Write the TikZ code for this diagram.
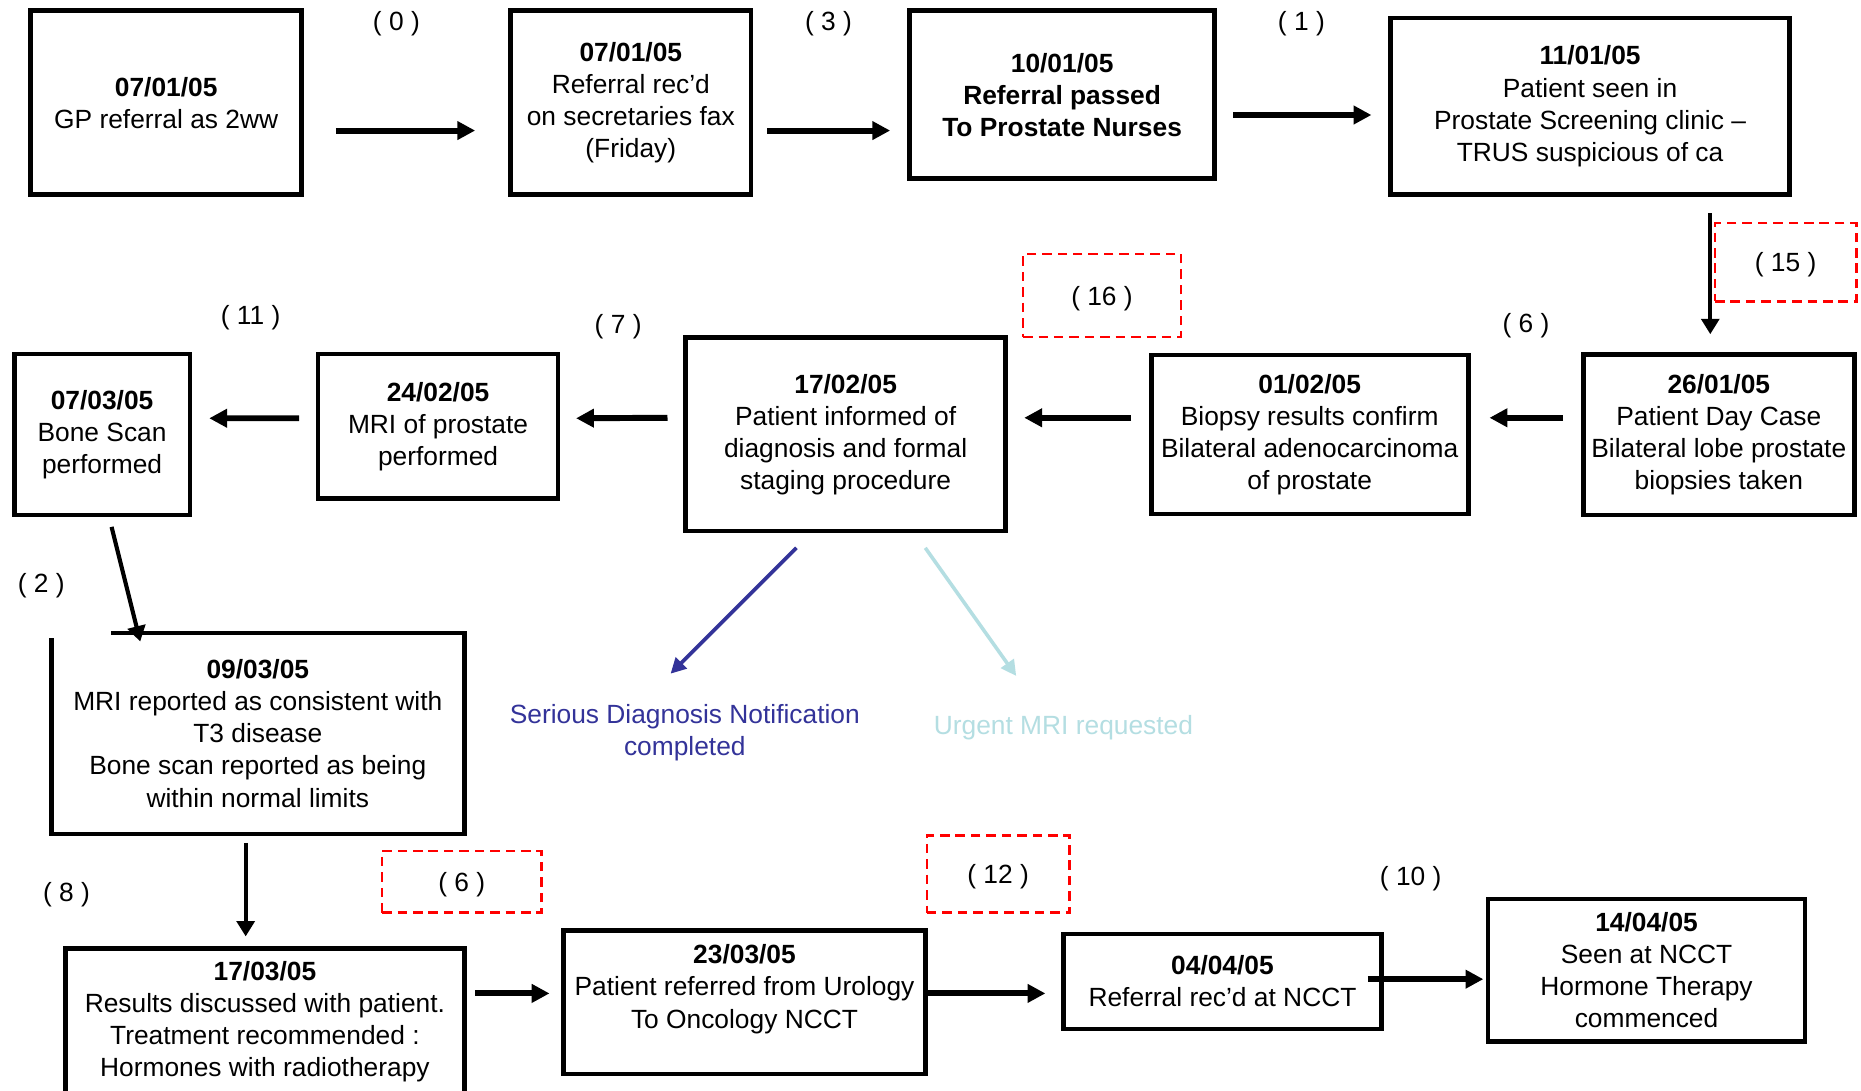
\documentclass[tikz,border=0pt]{standalone}
\usepackage{fontspec}
\setmainfont{Liberation Sans}
\usetikzlibrary{arrows.meta,calc}
\definecolor{sdblue}{RGB}{51,51,153}
\definecolor{mrilight}{RGB}{180,222,226}
\tikzset{
  box/.style={draw=black,line width=4pt,inner sep=0pt,align=center,font=\fontsize{22.2}{27}\selectfont},
  nobox/.style={inner sep=0pt,align=center,font=\fontsize{22.2}{27}\selectfont},
  lbl/.style={inner sep=0pt,text depth=0pt,font=\fontsize{22.2}{27}\selectfont},
  redbox/.style={draw=red,line width=2.2pt,dash pattern=on 8pt off 5pt,inner sep=0pt,text depth=0pt,font=\fontsize{22.2}{27}\selectfont},
  thickarr/.style={line width=5pt,-{Triangle[length=15pt,width=15pt]}},
  thinarr/.style={line width=3.5pt,-{Triangle[length=13pt,width=15pt]}},
  colarr/.style={line width=3pt,-{Triangle[length=13pt,width=13pt]}},
}
\begin{document}
\begin{tikzpicture}[x=1pt,y=-1pt]
\clip (0,0) rectangle (1568,919);
\fill[white] (0,0) rectangle (1568,919);
% row 1
\node[box,minimum width=228pt,minimum height=155pt] (b1) at (140,86.5) {\textbf{07/01/05}\\GP referral as 2ww};
\node[box,minimum width=202.3pt,minimum height=155pt] (b2) at (531.5,86.5) {\textbf{07/01/05}\\Referral rec'd\\on secretaries fax\\(Friday)};
\node[box,minimum width=256.8pt,minimum height=141.5pt] (b3) at (894.9,79.75) {\bfseries 10/01/05\\\bfseries Referral passed\\\bfseries To Prostate Nurses};
\node[box,minimum width=335.8pt,minimum height=148.5pt] (b4) at (1339.7,89.5) {\textbf{11/01/05}\\Patient seen in\\Prostate Screening clinic --\\TRUS suspicious of ca};
% row 2
\node[box,minimum width=228.4pt,minimum height=135pt] (b5) at (1448.2,366.4) {\textbf{26/01/05}\\Patient Day Case\\Bilateral lobe prostate\\biopsies taken};
\node[box,minimum width=267pt,minimum height=134pt] (b6) at (1103.5,366) {\textbf{01/02/05}\\Biopsy results confirm\\Bilateral adenocarcinoma\\of prostate};
\node[box,minimum width=269.8pt,minimum height=162.8pt] (b7) at (712.5,365.9) {\textbf{17/02/05}\\Patient informed of\\diagnosis and formal\\staging procedure};
\node[box,minimum width=202.2pt,minimum height=121.7pt] (b8) at (369.1,359.2) {\textbf{24/02/05}\\MRI of prostate\\performed};
\node[box,minimum width=148pt,minimum height=135.6pt] (b9) at (86,366.1) {\textbf{07/03/05}\\Bone Scan\\performed};
% row 3
\node[nobox,minimum width=347.7pt,minimum height=169pt] (b10) at (217.2,618) {\textbf{09/03/05}\\MRI reported as consistent with\\T3 disease\\Bone scan reported as being\\within normal limits};
\draw[line width=4pt] ($(b10.north west)+(50.7,0)$) -- (b10.north east) -- (b10.south east) -- (b10.south west) -- ($(b10.north west)+(0,4.2)$);
\node[box,minimum width=335.7pt,minimum height=123pt] (b11) at (223.2,860.5) {\textbf{17/03/05}\\Results discussed with patient.\\Treatment recommended :\\Hormones with radiotherapy};
\node[box,minimum width=304.6pt,minimum height=120.7pt] (b12) at (627.3,844.6) {\textbf{23/03/05}\\Patient referred from Urology\\To Oncology NCCT\\~};
\node[box,minimum width=268pt,minimum height=80pt] (b13) at (1030,827) {\textbf{04/04/05}\\Referral rec'd at NCCT};
\node[box,minimum width=267pt,minimum height=120pt] (b14) at (1387.3,817.5) {\textbf{14/04/05}\\Seen at NCCT\\Hormone Therapy\\commenced};
% coloured notes
\node[nobox,text=sdblue] (sdn) at (577,617) {Serious Diagnosis Notification\\completed};
\node[nobox,text=mrilight] (umr) at (896,613) {Urgent MRI requested};
% dashed red boxes
\node[redbox,minimum width=133pt,minimum height=70pt] (r16) at (928.5,249) {( 16 )};
\node[redbox,minimum width=119pt,minimum height=66pt] (r15) at (1504.5,221) {( 15 )};
\node[redbox,minimum width=134pt,minimum height=52pt] (r6) at (389,743) {( 6 )};
\node[redbox,minimum width=120pt,minimum height=65pt] (r12) at (841,736.5) {( 12 )};
% plain labels
\node[lbl] (l0) at (334,17.4) {( 0 )};
\node[lbl] (l3) at (698,17.4) {( 3 )};
\node[lbl] (l1) at (1096.5,17.4) {( 1 )};
\node[lbl] (l11) at (211.2,265.4) {( 11 )};
\node[lbl] (l7) at (520.8,273) {( 7 )};
\node[lbl] (l6a) at (1285.7,272.4) {( 6 )};
\node[lbl] (l2) at (34.7,491) {( 2 )};
\node[lbl] (l8) at (56,751.6) {( 8 )};
\node[lbl] (l10) at (1188.6,738) {( 10 )};
% connectors
\draw[thickarr] ($(b1.east)+(27,23.5)$) -- ($(b2.west)+(-28,23.5)$);
\draw[thickarr] ($(b2.east)+(12,23.5)$) -- ($(b3.west)+(-14.5,30.25)$);
\draw[thickarr] ($(b3.east)+(13.7,17.15)$) -- ($(b4.west)+(-14.3,7.4)$);
\draw[thinarr] ($(b4.south)+(101.3,13.8)$) -- ($(b5.north)+(-7.2,-15.3)$);
\draw[thickarr] ($(b5.west)+(-15,-14.4)$) -- ($(b6.east)+(16,-14)$);
\draw[thickarr] ($(b6.west)+(-15,-14)$) -- ($(b7.east)+(13.6,-13.9)$);
\draw[thickarr] ($(b7.west)+(-13.2,-13.9)$) -- ($(b8.east)+(13.2,-6.8)$);
\draw[thickarr] ($(b8.west)+(-14,-6.8)$) -- ($(b9.east)+(14.3,-13.7)$);
\draw[thinarr] ($(b9.south)+(8,8)$) -- ($(b10.north west)+(75,7.2)$);
\draw[thinarr] ($(b10.south)+(-10.2,7.5)$) -- ($(b11.north)+(-16.2,-8)$);
\draw[thickarr] ($(b11.east)+(7.4,-23.5)$) -- ($(b12.west)+(-10,-7.6)$);
\draw[thickarr] ($(b12.east)+(0,-7.6)$) -- ($(b13.west)+(-13.2,10)$);
\draw[thickarr] ($(b13.east)+(-13.4,-2)$) -- ($(b14.west)+(-2,7.5)$);
\draw[colarr,draw=sdblue,fill=sdblue] ($(b7.south)+(-41.5,12.3)$) -- ($(sdn.center)+(-12,-49.4)$);
\draw[colarr,draw=mrilight,fill=mrilight] ($(b7.south)+(67.1,12.3)$) -- ($(umr.center)+(-39.8,-43.5)$);
\end{tikzpicture}
\end{document}
